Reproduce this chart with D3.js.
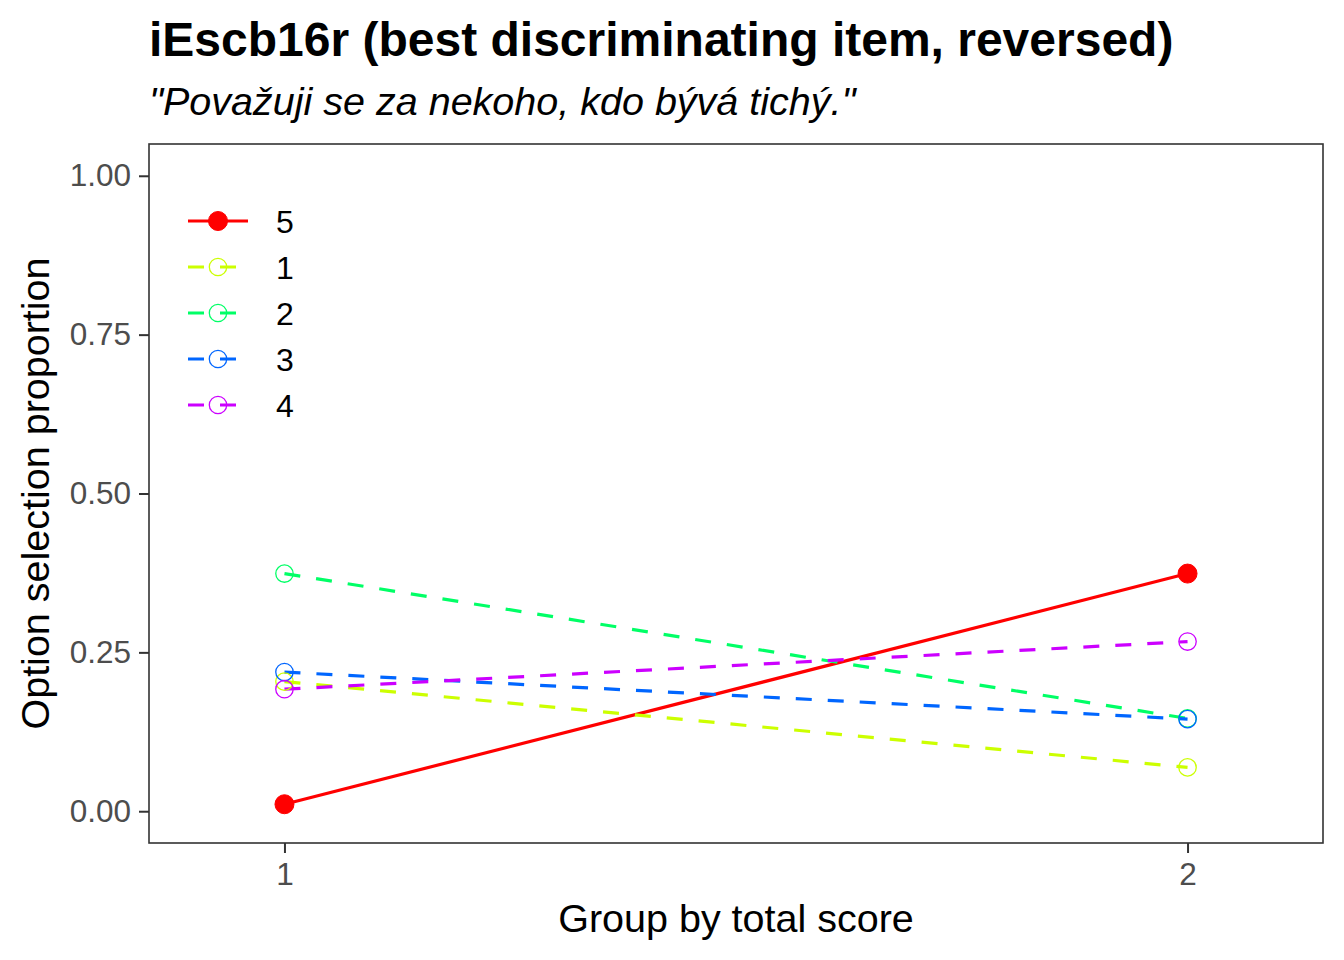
<!DOCTYPE html>
<html>
<head>
<meta charset="utf-8">
<script src="https://cdn.jsdelivr.net/npm/d3@7"></script>
<style>
  body { margin: 0; background: #fff; }
  text { font-family: "Liberation Sans", Arial, sans-serif; }
</style>
</head>
<body>
<svg id="chart" width="1344" height="960"></svg>
<script>
// data
var groups = [1, 2];
var optionNames = ["5", "1", "2", "3", "4"];
var option5 = [0.011, 0.374];
var option1 = [0.204, 0.069];
var option2 = [0.374, 0.146];
var option3 = [0.219, 0.145];
var option4 = [0.192, 0.267];
var optionColors = ["#FF0000", "#CCFF00", "#00FF66", "#0066FF", "#CC00FF"];
var yTicks = [0, 0.25, 0.5, 0.75, 1];

var series = [option5, option1, option2, option3, option4].map(function(vals, i) {
    return {
        name: optionNames[i],
        color: optionColors[i],
        correct: i == 0,
        points: groups.map(function(g, j) { return {g: g, v: vals[j]}; })
    };
});

var svg = d3.select("#chart");
var panelLeft = 149, panelRight = 1323, panelTop = 144, panelBottom = 843;

var x = d3.scaleLinear().domain([0.85, 2.15]).range([panelLeft, panelRight]);
var y = d3.scaleLinear().domain([-0.05, 1.05]).range([panelBottom, panelTop]);

// title + subtitle
svg.append("text")
    .attr("x", 149).attr("y", 56)
    .style("font-size", "48px").style("font-weight", "bold")
    .text("iEscb16r (best discriminating item, reversed)");
svg.append("text")
    .attr("x", 149).attr("y", 115)
    .style("font-size", "39.5px").style("font-style", "italic")
    .text("\"Považuji se za nekoho, kdo bývá tichý.\"");

// axes
var yAxis = svg.append("g")
    .attr("transform", "translate(" + panelLeft + ",0)")
    .call(d3.axisLeft(y).tickValues(yTicks).tickFormat(d3.format(".2f")).tickSize(10).tickPadding(8));
var xAxis = svg.append("g")
    .attr("transform", "translate(0," + panelBottom + ")")
    .call(d3.axisBottom(x).tickValues(groups).tickFormat(d3.format("d")).tickSize(10).tickPadding(10));

[xAxis, yAxis].forEach(function(a) {
    a.select(".domain").remove();
    a.selectAll(".tick line").attr("stroke", "#333333").attr("stroke-width", 2);
    a.selectAll(".tick text")
        .attr("fill", "#4D4D4D")
        .style("font-size", "31.5px")
        .style("font-family", "'Liberation Sans', Arial, sans-serif");
});

// panel border
svg.append("rect")
    .attr("x", panelLeft).attr("y", panelTop)
    .attr("width", panelRight - panelLeft).attr("height", panelBottom - panelTop)
    .attr("fill", "none").attr("stroke", "#333333").attr("stroke-width", 1.6);

// axis titles
svg.append("text")
    .attr("x", (panelLeft + panelRight) / 2).attr("y", 932)
    .attr("text-anchor", "middle")
    .style("font-size", "39.5px")
    .text("Group by total score");
svg.append("text")
    .attr("transform", "translate(49," + (panelTop + panelBottom) / 2 + ") rotate(-90)")
    .attr("text-anchor", "middle")
    .style("font-size", "39.5px")
    .text("Option selection proportion");

// lines
var line = d3.line()
    .x(function(d) { return x(d.g); })
    .y(function(d) { return y(d.v); });

var plot = svg.append("g");
plot.selectAll("path.series")
    .data(series)
    .enter().append("path")
    .attr("class", "series")
    .attr("d", function(d) { return line(d.points); })
    .attr("fill", "none")
    .attr("stroke", function(d) { return d.color; })
    .attr("stroke-width", 3.2)
    .attr("stroke-dasharray", function(d) { return d.correct ? null : "16,16"; });

// points
series.forEach(function(s) {
    plot.selectAll(null)
        .data(s.points)
        .enter().append("circle")
        .attr("cx", function(d) { return x(d.g); })
        .attr("cy", function(d) { return y(d.v); })
        .attr("r", s.correct ? 9.5 : 8.7)
        .attr("fill", s.correct ? s.color : "none")
        .attr("stroke", s.color)
        .attr("stroke-width", s.correct ? 1 : 1.3);
});

// legend
var legend = svg.append("g");
var rows = legend.selectAll("g")
    .data(series)
    .enter().append("g")
    .attr("transform", function(d, i) { return "translate(0," + (221 + i * 46) + ")"; });

rows.append("line")
    .attr("x1", 188).attr("x2", 248)
    .attr("stroke", function(d) { return d.color; })
    .attr("stroke-width", 3.2)
    .attr("stroke-dasharray", function(d) { return d.correct ? null : "16,16"; });
rows.append("circle")
    .attr("cx", 218)
    .attr("r", function(d) { return d.correct ? 9.5 : 8.7; })
    .attr("fill", function(d) { return d.correct ? d.color : "none"; })
    .attr("stroke", function(d) { return d.color; })
    .attr("stroke-width", function(d) { return d.correct ? 1 : 1.3; });
rows.append("text")
    .attr("x", 276).attr("dy", "0.36em")
    .style("font-size", "32px")
    .text(function(d) { return d.name; });
</script>
</body>
</html>
